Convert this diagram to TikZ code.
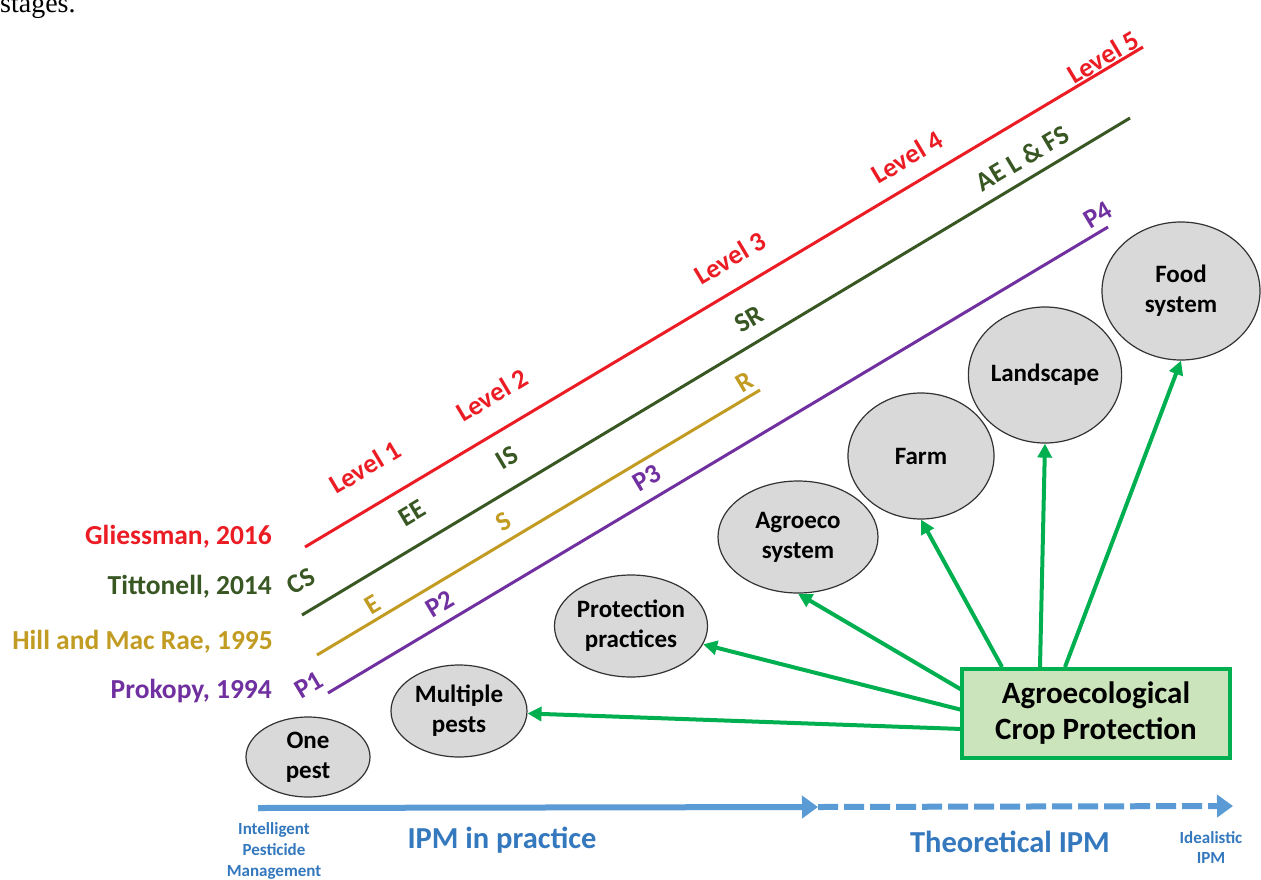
\documentclass[tikz,border=0pt]{standalone}
\usepackage{fontspec}
\setmainfont{Carlito}
\newfontfamily\serifcap{Liberation Serif}
\usetikzlibrary{arrows.meta,shapes.geometric}
\definecolor{cred}{RGB}{235,28,36}
\definecolor{cdgreen}{RGB}{56,87,35}
\definecolor{cgold}{RGB}{194,156,34}
\definecolor{cpurple}{RGB}{112,48,160}
\definecolor{cgreen}{RGB}{0,176,80}
\definecolor{cboxfill}{RGB}{204,228,188}
\definecolor{cblue}{RGB}{91,155,213}
\definecolor{ctblue}{RGB}{52,120,190}
\definecolor{cgray}{RGB}{217,217,217}
\tikzset{
  fz/.style={font=\fontsize{#1}{#1}\selectfont\bfseries},
  lvl/.style={fz=27, rotate=30.8, inner sep=0pt},
  author/.style={fz=27.5, anchor=east, inner sep=0pt},
  oval/.style={ellipse, draw=black!80, line width=1.2pt, fill=cgray, inner sep=0pt, align=center, font=\fontsize{25}{30}\selectfont\bfseries},
  garrow/.style={draw=cgreen, line width=4pt, -{Triangle[length=14pt,width=14pt]}},
  track/.style={line width=3pt},
}
\begin{document}
\begin{tikzpicture}[x=1pt,y=-1pt]
\useasboundingbox (0,0) rectangle (1261,879);
\fill[white] (0,0) rectangle (1261,879);

% caption fragment
\node[anchor=base west, inner sep=0pt, font=\serifcap\fontsize{28}{32}\selectfont] (cap) at (0,12) {stages.};

% track endpoints
\coordinate (r1) at (305,547); \coordinate (r2) at (1143,47);
\coordinate (g1) at (302,615); \coordinate (g2) at (1130,118);
\coordinate (y1) at (317,655); \coordinate (y2) at (760,390);
\coordinate (p1) at (328,693); \coordinate (p2) at (1108,227);
\draw[track, cred] (r1) -- (r2);
\draw[track, cdgreen] (g1) -- (g2);
\draw[track, cgold] (y1) -- (y2);
\draw[track, cpurple] (p1) -- (p2);

% authors
\node[author, text=cred] (au1) at (272,537) {Gliessman, 2016};
\node[author, text=cdgreen] (au2) at (272,587) {Tittonell, 2014};
\node[author, text=cgold] (au3) at (273,642) {Hill and Mac Rae, 1995};
\node[author, text=cpurple] (au4) at (272,691) {Prokopy, 1994};

% Gliessman levels
\node[lvl, text=cred] (l1) at (365,467) {Level 1};
\node[lvl, text=cred] (l2) at (492,395) {Level 2};
\node[lvl, text=cred] (l3) at (730,258) {Level 3};
\node[lvl, text=cred] (l4) at (907,157) {Level 4};
\node[lvl, text=cred] (l5) at (1103,57) {Level 5};
% Tittonell
\node[lvl, text=cdgreen] (t1) at (301,581) {CS};
\node[lvl, text=cdgreen] (t2) at (412,513) {EE};
\node[lvl, text=cdgreen] (t3) at (507,458) {IS};
\node[lvl, text=cdgreen] (t4) at (749,319) {SR};
\node[lvl, text=cdgreen] (t5) at (1022,158) {AE L \& FS};
% Hill
\node[lvl, text=cgold] (h1) at (373,605) {E};
\node[lvl, text=cgold] (h2) at (503,522) {S};
\node[lvl, text=cgold] (h3) at (745,382) {R};
% Prokopy
\node[lvl, text=cpurple] (k1) at (309,685) {P1};
\node[lvl, text=cpurple] (k2) at (440,604) {P2};
\node[lvl, text=cpurple] (k3) at (647,478) {P3};
\node[lvl, text=cpurple] (k4) at (1098,215) {P4};

% ellipses
\node[oval, minimum width=124pt, minimum height=80pt] (op) at (308,757) {One\\pest};
\node[oval, minimum width=136pt, minimum height=92pt] (mp) at (459,711) {Multiple\\pests};
\node[oval, minimum width=144pt, minimum height=102pt] (pp) at (631,626) {Protection\\practices};
\node[oval, minimum width=160pt, minimum height=112pt] (ae) at (798,537) {Agroeco\\system};
\node[oval, minimum width=146pt, minimum height=126pt] (fa) at (921,456) {Farm};
\node[oval, minimum width=144pt, minimum height=136pt] (ls) at (1045,375) {Landscape};
\node[oval, minimum width=158pt, minimum height=138pt] (fs) at (1181,291) {Food\\system};

% box
\node[draw=cgreen, line width=4pt, fill=cboxfill, minimum width=268pt, minimum height=89pt, align=center, inner sep=0pt, font=\fontsize{31}{36}\selectfont\bfseries] (acp) at (1096,713.5) {Agroecological\\Crop Protection};

% green arrows
\coordinate (s1) at (962,729);
\coordinate (s2) at (962,710);
\coordinate (s3) at (962,690);
\coordinate (s4) at (1002,667);
\coordinate (s5) at (1040,667);
\coordinate (s6) at (1065,667);
\draw[garrow] (s1) -- (mp);
\draw[garrow] (s2) -- (pp);
\draw[garrow] (s3) -- (ae.south);
\draw[garrow] (s4) -- (fa.south);
\draw[garrow] (s5) -- (ls.south);
\draw[garrow] (s6) -- (fs.south);

% bottom axis
\coordinate (b0) at (258,808);
\coordinate (b1) at (818,807);
\coordinate (b2) at (1233,806);
\draw[cblue, line width=6pt, -{Triangle[length=16pt,width=22pt]}] (b0) -- (b1);
\draw[cblue, line width=6pt, dash pattern=on 20pt off 6pt, -{Triangle[length=16pt,width=22pt]}] (b1) -- (b2);

\node[text=ctblue, align=center, font=\fontsize{17}{21}\selectfont\bfseries, inner sep=0pt] (ipm0) at (274,851) {Intelligent\\Pesticide\\Management};
\node[text=ctblue, fz=30.5, inner sep=0pt] (ipm1) at (502,840) {IPM in practice};
\node[text=ctblue, fz=30.5, inner sep=0pt] (ipm2) at (1010,842) {Theoretical IPM};
\node[text=ctblue, align=center, font=\fontsize{17}{20}\selectfont\bfseries, inner sep=0pt] (ipm3) at (1211,848) {Idealistic\\IPM};
\end{tikzpicture}
\end{document}
